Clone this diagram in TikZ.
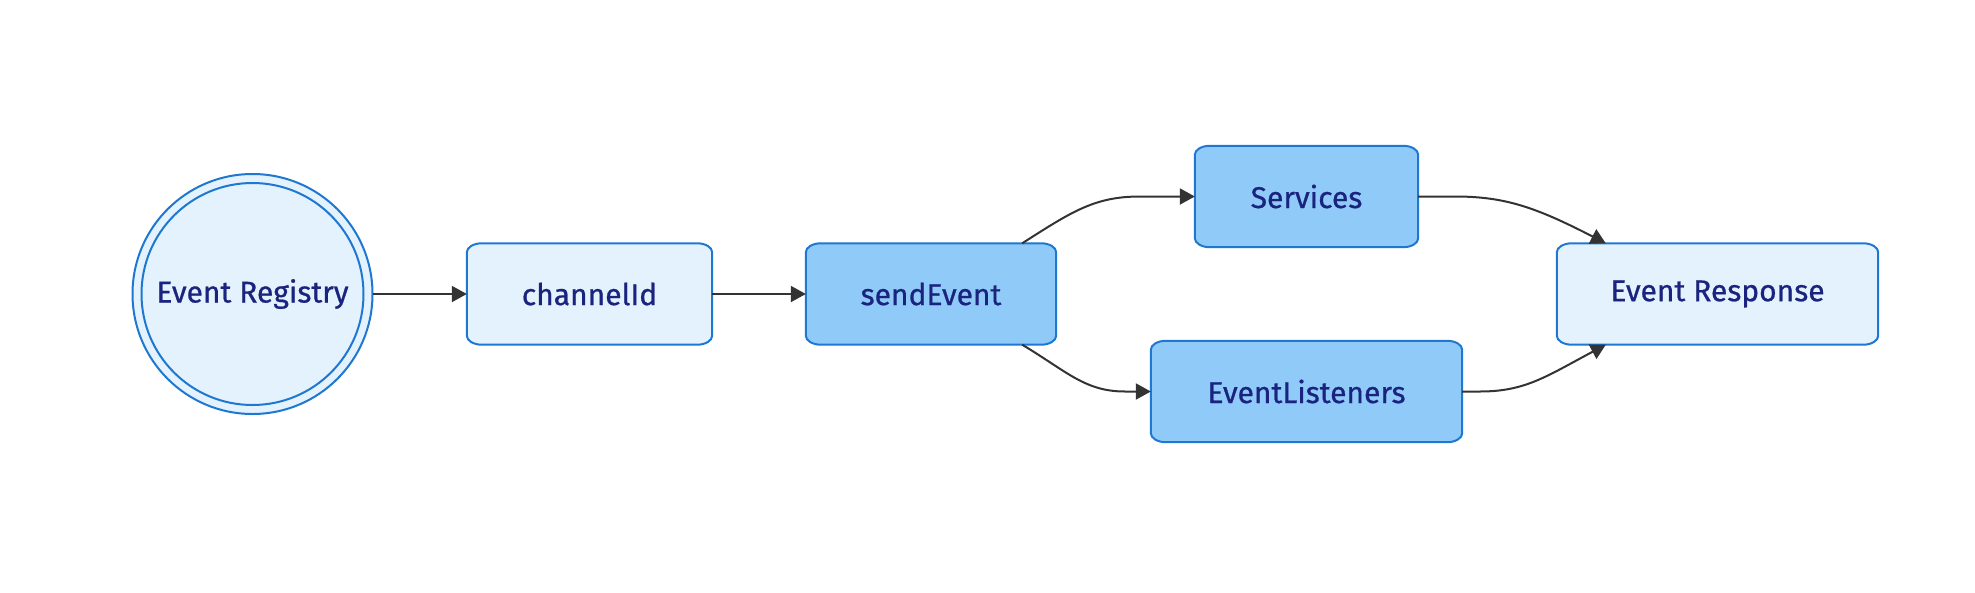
\documentclass[tikz,border=0pt]{standalone}
\usepackage{fontspec}
\setmainfont{Fira Sans}
\usetikzlibrary{arrows.meta,calc,backgrounds}
\definecolor{lightfill}{HTML}{E3F2FD}
\definecolor{darkfill}{HTML}{90CAF9}
\definecolor{bstroke}{HTML}{1E78D2}
\definecolor{txt}{HTML}{1A237E}
\definecolor{edgecol}{HTML}{333333}
\newcommand\ebox[2]{%
 \path[#2] let \p1=(#1.south west), \p2=(#1.north east) in
   (\x1+15pt,\y1) -- (\x2-15pt,\y1)
   arc[start angle=-90,end angle=0,x radius=15pt,y radius=9pt] -- (\x2,\y2-9pt)
   arc[start angle=0,end angle=90,x radius=15pt,y radius=9pt] -- (\x1+15pt,\y2)
   arc[start angle=90,end angle=180,x radius=15pt,y radius=9pt] -- (\x1,\y1+9pt)
   arc[start angle=180,end angle=270,x radius=15pt,y radius=9pt] -- cycle;}
\tikzset{
  lbl/.style={text=txt, font=\fontsize{30}{36}\selectfont\addfontfeatures{FakeBold=0.7}, inner sep=0pt},
  boxn/.style={lbl, rectangle, minimum width=#1, minimum height=101pt},
  lightbox/.style={fill=lightfill, draw=bstroke, line width=2pt},
  darkbox/.style={fill=darkfill, draw=bstroke, line width=2pt},
  conn/.style={draw=edgecol, line width=2pt, -{Triangle[length=15pt,width=16pt]}},
}
\begin{document}
\begin{tikzpicture}[x=1pt,y=-1pt]
\useasboundingbox (0,0) rectangle (1975,592);
\node[lbl, circle, minimum size=240pt] (reg) at (252.5,294) {Event Registry};
\node[boxn=245pt] (chan) at (589.5,294) {channelId};
\node[boxn=250pt] (send) at (931,294) {sendEvent};
\node[boxn=223pt] (serv) at (1306.5,196.5) {Services};
\node[boxn=311pt] (list) at (1306.5,391.5) {EventListeners};
\node[boxn=321pt] (resp) at (1717.5,294) {Event Response};
\begin{scope}[on background layer]
  \fill[white] (0,0) rectangle (1975,592);
  \draw[lightbox] (reg.center) circle[radius=120pt];
  \draw[lightbox] (reg.center) circle[radius=111pt];
  \ebox{chan}{lightbox}
  \ebox{send}{darkbox}
  \ebox{serv}{darkbox}
  \ebox{list}{darkbox}
  \ebox{resp}{lightbox}
\end{scope}
\draw[conn] (reg.east) -- (chan.west);
\draw[conn] (chan.east) -- (send.west);
\draw[conn] ([xshift=-34pt]send.north east) .. controls +(50,-32) and +(-45,0) .. (1140,196.5) -- (serv.west);
\draw[conn] ([xshift=-34pt]send.south east) .. controls +(45,27) and +(-40,0) .. (1125,391.5) -- (list.west);
\draw[conn] (serv.east) -- (1455,196.5) .. controls +(50,0) and +(-70,-36) .. ([xshift=49pt]resp.north west);
\draw[conn] (list.east) -- (1480,391.5) .. controls +(45,0) and +(-60,32) .. ([xshift=49pt]resp.south west);
\end{tikzpicture}
\end{document}
